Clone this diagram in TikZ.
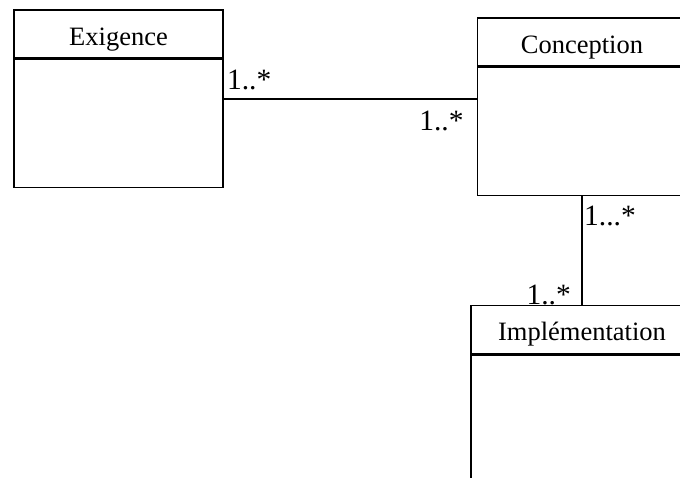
\documentclass[tikz,border=0pt]{standalone}
\usepackage{fontspec}
\setmainfont{Liberation Serif}
\usetikzlibrary{calc}
\begin{document}
\begin{tikzpicture}[x=1pt,y=-1pt,
  classhead/.style={draw,line width=1.6pt,rectangle,inner sep=0pt,minimum width=209pt,minimum height=48pt,
    text height=35pt,text depth=13pt,font=\fontsize{26.5}{30}\selectfont},
  classbody/.style={draw,line width=1.6pt,rectangle,inner sep=0pt,minimum width=209pt,minimum height=128pt,anchor=north},
  conn/.style={line width=1.6pt},
  mult/.style={inner sep=0pt,font=\fontsize{29.5}{34}\selectfont}]
\useasboundingbox (0,0) rectangle (680,477);
\clip (0,0) rectangle (680,477);
% Exigence
\node[classhead] (exh) at (118.5,34) {Exigence};
\node[classbody] (exb) at (exh.south) {};
% Conception
\node[classhead] (coh) at (582,42) {Conception};
\node[classbody] (cob) at (coh.south) {};
% Implementation
\node[classhead,minimum width=222pt] (imh) at (582,329.5) {Implémentation};
\node[classbody,minimum width=222pt,minimum height=180pt] (imb) at (imh.south) {};
% connectors
\draw[conn] (exb.north east) ++(0,40) coordinate (p1) -- (p1 -| cob.west) coordinate (p2);
\draw[conn] (cob.south) -- (imh.north);
% multiplicities
\node[mult,anchor=base west] (m1) at ($(p1)+(3,-9)$) {1..*};
\node[mult,anchor=base east] (m2) at ($(p2)+(-13,32)$) {1..*};
\node[mult,anchor=base west] (m3) at ($(cob.south)+(2,29)$) {1...*};
\node[mult,anchor=base east] (m4) at ($(imh.north)+(-11,0)$) {1..*};
\end{tikzpicture}
\end{document}
